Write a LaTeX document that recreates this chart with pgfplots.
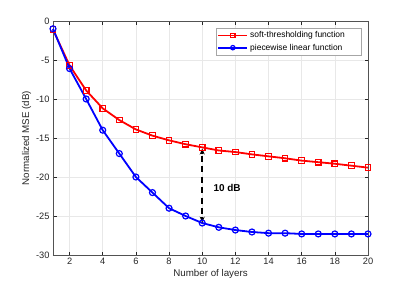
\documentclass[border=0pt]{standalone}
\usepackage{pgfplots}
\pgfplotsset{compat=1.18}
\usepackage{fontspec}
\setmainfont{Liberation Sans}
\usetikzlibrary{arrows.meta}
\definecolor{axgray}{gray}{0.15}
\begin{document}
\begin{tikzpicture}
\begin{axis}[
  scale only axis,
  width=315bp, height=234bp,
  xmin=1, xmax=20, ymin=-30, ymax=0,
  xtick={2,4,...,20}, ytick={-30,-25,...,0},
  grid=major,
  major grid style={gray!18, line width=0.5pt},
  axis line style={axgray!80, line width=0.6pt},
  tick style={axgray, line width=0.5pt},
  tick align=inside,
  major tick length=3.5bp,
  ticklabel style={font=\fontsize{9.3}{10}\selectfont, text=axgray},
  /pgf/number format/assume math mode=true,
  xlabel={Number of layers}, ylabel={Normalized MSE (dB)},
  label style={font=\fontsize{9.8}{11}\selectfont, text=axgray},
  xlabel style={yshift=2bp},
  ylabel style={yshift=-2bp},
  legend style={at={(0.978,0.970)}, anchor=north east, font=\fontsize{8.5}{9.5}\selectfont,
    draw=gray!70, line width=0.5pt, inner xsep=1pt, inner ysep=1.5pt, row sep=0.5pt},
  legend cell align=left,
  legend image code/.code={
    \draw[mark repeat=2,mark phase=2,mark size=2.2pt,#1] plot coordinates {(0bp,0bp) (14.5bp,0bp) (29bp,0bp)};
  },
  clip=false,
]
\addplot[red, line width=1.8pt, mark=square, mark size=2.8pt, mark options={solid, line width=1.2pt}]
coordinates {(1,-1.1)(2,-5.7)(3,-8.9)(4,-11.2)(5,-12.7)(6,-13.9)(7,-14.7)(8,-15.3)(9,-15.8)(10,-16.2)
(11,-16.6)(12,-16.8)(13,-17.1)(14,-17.35)(15,-17.6)(16,-17.9)(17,-18.1)(18,-18.3)(19,-18.55)(20,-18.8)};
\addlegendentry{soft-thresholding function\rule{13bp}{0pt}}
\addplot[blue, line width=1.8pt, mark=o, mark size=3pt, mark options={solid, line width=1.2pt}]
coordinates {(1,-1.0)(2,-6.1)(3,-10.0)(4,-14.0)(5,-17.0)(6,-20.0)(7,-22.0)(8,-24.0)(9,-25.0)(10,-25.9)
(11,-26.45)(12,-26.8)(13,-27.05)(14,-27.2)(15,-27.2)(16,-27.3)(17,-27.3)(18,-27.3)(19,-27.3)(20,-27.3)};
\addlegendentry{piecewise linear function}
\draw[black, line width=1.8pt, dash pattern=on 6bp off 4.5bp, line cap=butt]
  (axis cs:10,-17.3) -- (axis cs:10,-24.9);
\draw[black, line width=1.6pt, -{Stealth[length=6bp,width=5bp]}]
  (axis cs:10,-17.1) -- (axis cs:10,-16.35);
\draw[black, line width=1.6pt, -{Stealth[length=6bp,width=5bp]}]
  (axis cs:10,-25.1) -- (axis cs:10,-25.85);
\node[font=\bfseries\fontsize{10}{11}\selectfont, text=black] at (axis cs:11.5,-21.4) {10 dB};
\end{axis}
\useasboundingbox (-53bp,-32bp) rectangle (354bp,255bp);
\end{tikzpicture}
\end{document}
